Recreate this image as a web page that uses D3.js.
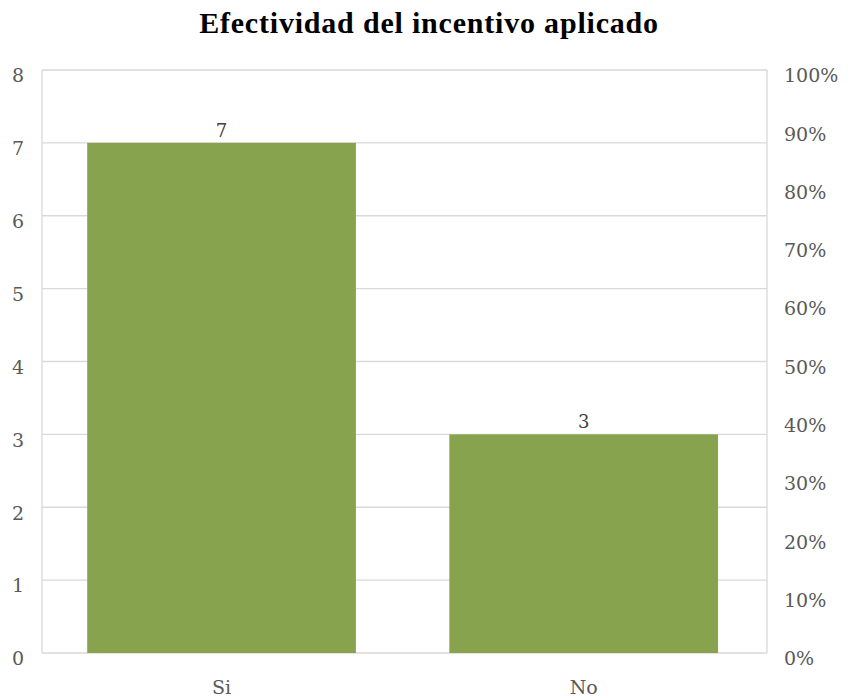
<!DOCTYPE html>
<html>
<head>
<meta charset="utf-8">
<script src="https://cdn.jsdelivr.net/npm/d3@7"></script>
<style>
  body { margin: 0; background: #fff; }
  .tick text { font-family: "DejaVu Serif", serif; }
</style>
</head>
<body>
<div id="chart"></div>
<script>
// data
var categories = ["Si", "No"];
var values = [7, 3];
var leftTicks = [0, 1, 2, 3, 4, 5, 6, 7, 8];
var rightTicks = [0, 0.1, 0.2, 0.3, 0.4, 0.5, 0.6, 0.7, 0.8, 0.9, 1];
var title = "Efectividad del incentivo aplicado";

var width = 848, height = 700;
var margin = { top: 70, right: 81, bottom: 47, left: 42 };
var innerW = width - margin.left - margin.right,
    innerH = height - margin.top - margin.bottom;

var svg = d3.select("#chart").append("svg")
    .attr("width", width).attr("height", height);

svg.append("text")
    .attr("x", 429).attr("y", 33)
    .attr("text-anchor", "middle")
    .style("font-family", "'Liberation Serif', serif")
    .style("font-weight", "bold")
    .style("font-size", "30px")
    .style("letter-spacing", "0.8px")
    .attr("fill", "#000")
    .text(title);

var g = svg.append("g").attr("transform", "translate(" + margin.left + "," + margin.top + ")");

var x = d3.scaleBand().domain(categories).range([0, innerW])
    .paddingInner(0.258).paddingOuter(0.13).align(0.48);
var y = d3.scaleLinear().domain([0, 8]).range([innerH, 0]);
var yPct = d3.scaleLinear().domain([0, 1]).range([innerH, 0]);

// gridlines
g.selectAll(".grid").data(leftTicks).enter().append("line")
    .attr("x1", 0).attr("x2", innerW)
    .attr("y1", function(d) { return y(d); }).attr("y2", function(d) { return y(d); })
    .attr("stroke", "#d9d9d9").attr("stroke-width", 1.3);

// box sides
g.append("line").attr("x1", 0).attr("x2", 0).attr("y1", 0).attr("y2", innerH)
    .attr("stroke", "#d9d9d9").attr("stroke-width", 1.3);
g.append("line").attr("x1", innerW).attr("x2", innerW).attr("y1", 0).attr("y2", innerH)
    .attr("stroke", "#d9d9d9").attr("stroke-width", 1.3);

// bars
g.selectAll(".bar").data(values).enter().append("rect")
    .attr("class", "bar")
    .attr("x", function(d, i) { return x(categories[i]); })
    .attr("width", x.bandwidth())
    .attr("y", function(d) { return y(d); })
    .attr("height", function(d) { return innerH - y(d); })
    .attr("fill", "#87a34d");

// data labels
g.selectAll(".lbl").data(values).enter().append("text")
    .attr("x", function(d, i) { return x(categories[i]) + x.bandwidth() / 2; })
    .attr("y", function(d) { return y(d) - 6; })
    .attr("text-anchor", "middle")
    .style("font-family", "'DejaVu Serif', serif")
    .style("font-size", "18px")
    .attr("fill", "#404040")
    .text(function(d) { return d; });

// left axis
var yAxis = g.append("g")
    .call(d3.axisLeft(y).tickValues(leftTicks).tickSize(0).tickPadding(18));
yAxis.select(".domain").remove();
yAxis.selectAll("text").attr("dy", "0.62em").style("font-size", "19px").attr("fill", "#595959");

// right axis
var rAxis = g.append("g").attr("transform", "translate(" + innerW + ",0)")
    .call(d3.axisRight(yPct).tickValues(rightTicks).tickFormat(d3.format(".0%")).tickSize(0).tickPadding(17));
rAxis.select(".domain").remove();
rAxis.selectAll("text").attr("dy", "0.62em").style("font-size", "19px").attr("fill", "#595959");

// bottom axis
var xAxis = g.append("g").attr("transform", "translate(0," + innerH + ")")
    .call(d3.axisBottom(x).tickSize(0).tickPadding(28));
xAxis.select(".domain").remove();
xAxis.selectAll("text").style("font-size", "19px").attr("fill", "#595959");
</script>
</body>
</html>
